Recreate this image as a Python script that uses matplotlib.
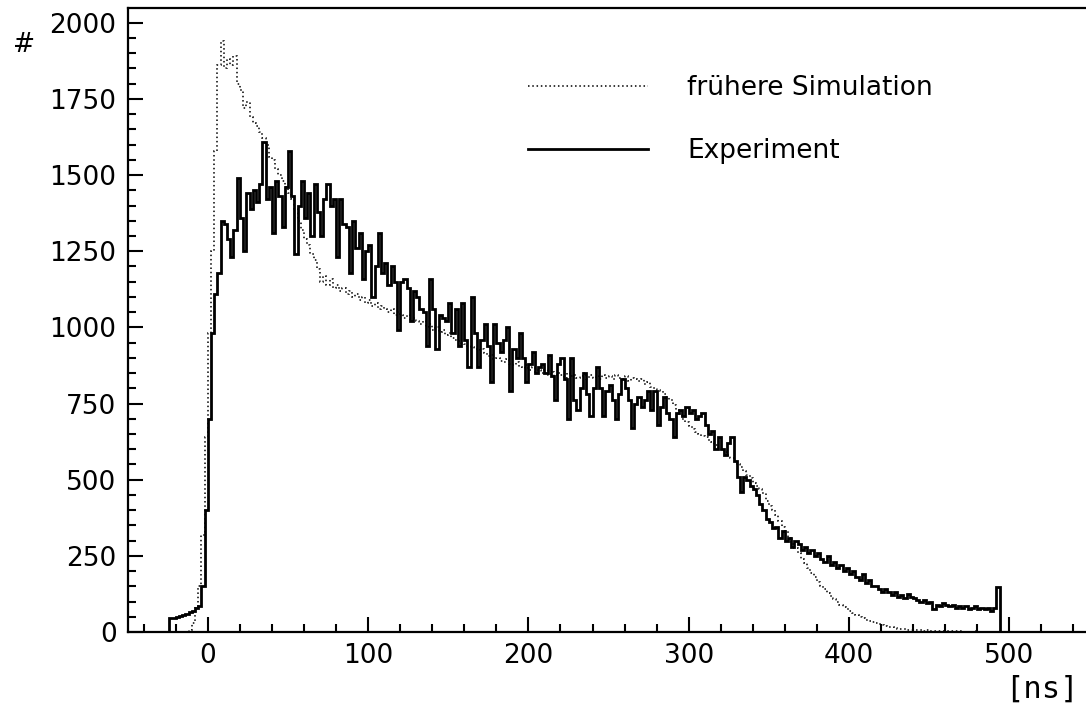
import numpy as np
import matplotlib
matplotlib.use("Agg")
import matplotlib.pyplot as plt

# bin layout (2 ns bins)
exp_start, sim_start, bin_w = -24, -12, 2

# Experiment counts per 2 ns bin, starting at -24 ns
experiment = [
    45, 46, 50, 52, 57, 60, 64, 70, 78, 86,
    150, 400, 700, 980, 1110, 1180, 1350, 1340, 1290, 1230,
    1320, 1490, 1360, 1250, 1440, 1390, 1450, 1410, 1470, 1610,
    1420, 1460, 1310, 1480, 1430, 1330, 1460, 1580, 1430, 1240,
    1400, 1480, 1360, 1440, 1300, 1470, 1380, 1300, 1420, 1470,
    1400, 1420, 1230, 1420, 1340, 1330, 1180, 1350, 1260, 1310,
    1160, 1250, 1270, 1100, 1200, 1310, 1180, 1210, 1140, 1200,
    1150, 990, 1150, 1160, 1130, 1020, 1120, 1100, 1060, 1050,
    940, 1160, 1060, 930, 1040, 1030, 1020, 1080, 980, 1060,
    940, 1080, 960, 870, 1100, 980, 870, 960, 1010, 940,
    820, 1010, 950, 920, 960, 1000, 790, 930, 900, 980,
    900, 820, 880, 920, 850, 870, 880, 850, 910, 840,
    760, 880, 900, 830, 700, 900, 760, 730, 800, 850,
    780, 710, 800, 870, 800, 710, 790, 810, 760, 700,
    780, 830, 800, 760, 670, 750, 770, 740, 760, 790,
    730, 790, 680, 740, 770, 720, 700, 640, 720, 730,
    710, 740, 720, 730, 700, 710, 720, 680, 650, 660,
    600, 640, 600, 580, 620, 640, 560, 510, 460, 510,
    500, 480, 470, 450, 420, 400, 370, 360, 340, 345,
    310, 330, 300, 310, 280, 300, 290, 270, 280, 260,
    270, 250, 260, 240, 230, 250, 220, 230, 210, 220,
    200, 210, 190, 200, 180, 170, 190, 160, 170, 150,
    150, 140, 130, 140, 130, 120, 130, 115, 120, 110,
    125, 115, 110, 105, 100, 105, 95, 100, 75, 90,
    85, 95, 90, 85, 90, 80, 85, 80, 85, 75,
    80, 85, 75, 80, 75, 80, 70, 78, 148,
]

# earlier simulation counts per 2 ns bin, starting at -12 ns
simulation = [
    5, 30, 80, 150, 320, 640, 980, 1250, 1580, 1860,
    1940, 1850, 1880, 1860, 1890, 1800, 1780, 1720, 1740, 1690,
    1670, 1660, 1640, 1620, 1600, 1560, 1550, 1520, 1500, 1480,
    1460, 1440, 1420, 1390, 1350, 1320, 1290, 1270, 1240, 1220,
    1190, 1150, 1170, 1140, 1160, 1130, 1140, 1120, 1130, 1110,
    1120, 1100, 1110, 1090, 1100, 1080, 1090, 1070, 1080, 1060,
    1070, 1060, 1050, 1060, 1040, 1050, 1040, 1030, 1040, 1020,
    1030, 1020, 1010, 1020, 1000, 1010, 990, 1000, 985, 990,
    975, 980, 965, 960, 955, 950, 945, 940, 935, 930,
    925, 930, 915, 905, 910, 895, 900, 890, 885, 895,
    880, 875, 885, 870, 865, 875, 860, 870, 855, 860,
    850, 860, 845, 855, 840, 850, 845, 835, 850, 840,
    845, 835, 840, 850, 830, 845, 835, 840, 830, 845,
    835, 840, 830, 845, 835, 830, 840, 825, 835, 830,
    825, 830, 815, 820, 805, 800, 795, 790, 780, 770,
    760, 745, 730, 715, 700, 690, 675, 665, 655, 650,
    645, 640, 630, 625, 615, 605, 600, 590, 580, 570,
    560, 550, 540, 530, 515, 505, 490, 480, 470, 455,
    430, 415, 400, 385, 365, 345, 330, 310, 290, 275,
    260, 240, 225, 210, 195, 180, 165, 150, 140, 128,
    118, 108, 98, 90, 82, 75, 68, 62, 56, 50,
    45, 40, 36, 32, 28, 25, 22, 19, 17, 15,
    13, 11, 10, 9, 8, 7, 6, 5, 5, 4,
    5, 4, 4, 3, 3, 3, 2, 2, 2, 2,
    2, 2, 1, 1, 1, 2, 1, 1, 1, 1,
    1, 1, 1, 1, 1, 0,
]

exp_edges = exp_start + bin_w * np.arange(len(experiment) + 1)
sim_edges = sim_start + bin_w * np.arange(len(simulation) + 1)

plt.rcParams['font.family'] = ['DejaVu Sans']

fig = plt.figure(figsize=(10.86, 7.15), dpi=100)
ax = fig.add_axes([0.1176, 0.1161, 0.8855, 0.8734])

ax.stairs(simulation, sim_edges, baseline=0, color='black', lw=1.1,
          linestyle=(0, (1, 1.8)), label='frühere Simulation')
ax.stairs(experiment, exp_edges, baseline=0, color='black', lw=2.0,
          label='Experiment')

ax.set_xlim(-50, 550)
ax.set_ylim(0, 2050)
ax.set_xticks([0, 100, 200, 300, 400, 500])
ax.set_xticks(np.arange(-40, 550, 20), minor=True)
ax.set_yticks(np.arange(0, 2001, 250))
ax.set_yticks(np.arange(0, 2050, 50), minor=True)
ax.tick_params(which='both', direction='in', width=1.5, labelsize=19,
               top=False, right=False)
ax.tick_params(which='major', length=11)
ax.tick_params(which='minor', length=5.5)
ax.tick_params(axis='y', pad=8)
ax.tick_params(axis='x', pad=8)
for side in ['left', 'bottom', 'top']:
    ax.spines[side].set_linewidth(1.6)
ax.spines['right'].set_visible(False)

ax.legend(loc='upper left', bbox_to_anchor=(0.416, 0.892), frameon=False,
          fontsize=19, handlelength=4.55, handletextpad=1.5,
          labelspacing=1.4, borderpad=0, borderaxespad=0)

fig.text(0.012, 0.937, '#', fontsize=19, ha='left', va='center')
fig.text(0.993, 0.036, '[ns]', fontsize=22, family='DejaVu Sans Mono',
         ha='right', va='center')

fig.savefig('out.png', dpi=100)
